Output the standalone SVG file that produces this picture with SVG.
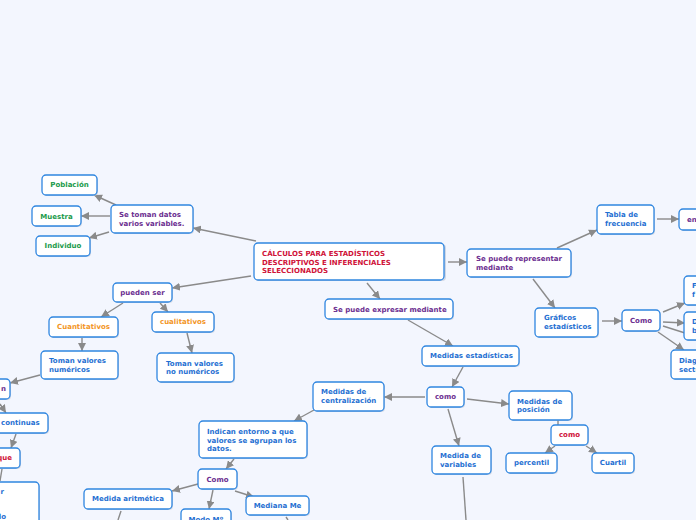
<svg xmlns="http://www.w3.org/2000/svg" width="696" height="520" viewBox="0 0 696 520">
<style>
.bg{fill:#f3f6fe}
.n rect.b{fill:#fff;stroke:#2f86e0;stroke-width:1.3}
.n rect.sh{fill:#b9c3d3;opacity:.6}
text{font-family:"DejaVu Sans","Verdana",sans-serif;font-weight:bold;font-size:7px;dominant-baseline:central}
.c{text-anchor:middle}
.e{text-anchor:end}
.bl{fill:#1f70d2}
.pu{fill:#6b2d8f}
.rd{fill:#cf1238}
.gr{fill:#1a9a4a}
.or{fill:#f3961f}
#conn line,#conn path{stroke:#8a8a8a;stroke-width:1.4;fill:none}
.a{marker-end:url(#ah)}
</style>
<defs>
<marker id="ah" viewBox="0 0 10 10" refX="10" refY="5" markerWidth="8" markerHeight="8" markerUnits="userSpaceOnUse" orient="auto">
<path d="M0,0 L10,5 L0,10 z" fill="#8a8a8a"/>
</marker>
</defs>
<rect class="bg" x="0" y="0" width="696" height="520"/>

<g id="conn">
<line class="a" x1="256" y1="241" x2="193" y2="228"/>
<line class="a" x1="116" y1="205" x2="94" y2="195"/>
<line class="a" x1="110" y1="216" x2="81" y2="216"/>
<line class="a" x1="109" y1="232" x2="89" y2="238"/>
<line class="a" x1="367" y1="283" x2="380" y2="299"/>
<line class="a" x1="448" y1="262" x2="467" y2="262"/>
<line class="a" x1="557" y1="248" x2="597" y2="230"/>
<line class="a" x1="657" y1="219" x2="679" y2="219"/>
<line class="a" x1="533" y1="279" x2="555" y2="308"/>
<line class="a" x1="602" y1="321" x2="622" y2="321"/>
<line class="a" x1="663" y1="312" x2="685" y2="303"/>
<line class="a" x1="663" y1="322" x2="685" y2="323"/>
<line x1="663" y1="326" x2="685" y2="333"/>
<line class="a" x1="658" y1="332" x2="684" y2="350"/>
<line class="a" x1="408" y1="320" x2="453" y2="346"/>
<line class="a" x1="463" y1="367" x2="452" y2="387"/>
<line class="a" x1="425" y1="397" x2="384" y2="397"/>
<line class="a" x1="448" y1="409" x2="459" y2="446"/>
<line class="a" x1="467" y1="399" x2="509" y2="404"/>
<line x1="558" y1="420" x2="558" y2="425"/>
<line class="a" x1="555" y1="446" x2="545" y2="453"/>
<line class="a" x1="586" y1="446" x2="597" y2="453"/>
<line x1="463" y1="477" x2="466" y2="520"/>
<line class="a" x1="251" y1="276" x2="172" y2="288"/>
<line class="a" x1="123" y1="303" x2="101" y2="317"/>
<line class="a" x1="160" y1="303" x2="168" y2="312"/>
<line class="a" x1="82" y1="338" x2="82" y2="351"/>
<line class="a" x1="187" y1="333" x2="192" y2="353"/>
<line class="a" x1="40" y1="375" x2="10" y2="383"/>
<line class="a" x1="0" y1="404" x2="6" y2="413"/>
<line class="a" x1="16" y1="434" x2="11" y2="448"/>
<line x1="2" y1="469" x2="0" y2="481"/>
<line class="a" x1="314" y1="410" x2="294" y2="421"/>
<line class="a" x1="234" y1="459" x2="226" y2="469"/>
<line class="a" x1="198" y1="484" x2="172" y2="491"/>
<line class="a" x1="235" y1="491" x2="254" y2="497"/>
<line class="a" x1="213" y1="490" x2="209" y2="509"/>
<line x1="121" y1="511" x2="118" y2="520"/>
<line x1="286" y1="517" x2="288" y2="520"/>
</g>

<g id="main" class="n"><rect class="sh" x="255" y="244" width="191" height="37" rx="4"/><rect class="b" x="254" y="243" width="190" height="37" rx="4"/>
<text class="rd" x="262" y="254">CÁLCULOS PARA ESTADÍSTICOS</text><text class="rd" x="262" y="262.5">DESCRIPTIVOS E INFERENCIALES</text><text class="rd" x="262" y="271">SELECCIONADOS</text></g>

<g id="setoman" class="n"><rect class="sh" x="112" y="206" width="82" height="28" rx="4"/><rect class="b" x="111" y="205" width="82" height="28" rx="4"/>
<text class="pu" x="119" y="215">Se toman datos</text><text class="pu" x="119" y="224">varios variables.</text></g>

<g id="poblacion" class="n"><rect class="sh" x="43" y="176" width="55" height="20" rx="4"/><rect class="b" x="42" y="175" width="55" height="20" rx="4"/>
<text class="gr c" x="69.5" y="185">Población</text></g>

<g id="muestra" class="n"><rect class="sh" x="33" y="207" width="49" height="20" rx="4"/><rect class="b" x="32" y="206" width="49" height="20" rx="4"/>
<text class="gr c" x="56.5" y="216.5">Muestra</text></g>

<g id="individuo" class="n"><rect class="sh" x="37" y="237" width="54" height="20" rx="4"/><rect class="b" x="36" y="236" width="54" height="20" rx="4"/>
<text class="gr c" x="63" y="246">Individuo</text></g>

<g id="expresar" class="n"><rect class="sh" x="326" y="300" width="128" height="20" rx="4"/><rect class="b" x="325" y="299" width="128" height="20" rx="4"/>
<text class="pu" x="333" y="309.5">Se puede expresar mediante</text></g>

<g id="representar" class="n"><rect class="sh" x="468" y="250" width="104" height="28" rx="4"/><rect class="b" x="467" y="249" width="104" height="28" rx="4"/>
<text class="pu" x="476" y="259">Se puede representar</text><text class="pu" x="476" y="267.5">mediante</text></g>

<g id="tabla" class="n"><rect class="sh" x="598" y="206" width="57" height="29" rx="4"/><rect class="b" x="597" y="205" width="57" height="29" rx="4"/>
<text class="bl" x="605" y="215">Tabla de</text><text class="bl" x="605" y="224">frecuencia</text></g>

<g id="en" class="n"><rect class="sh" x="680" y="210" width="30" height="21" rx="4"/><rect class="b" x="679" y="209" width="30" height="21" rx="4"/>
<text class="pu" x="687" y="219.5">en</text></g>

<g id="graficos" class="n"><rect class="sh" x="536" y="309" width="63" height="29" rx="4"/><rect class="b" x="535" y="308" width="63" height="29" rx="4"/>
<text class="bl" x="544" y="318">Gráficos</text><text class="bl" x="544" y="327">estadísticos</text></g>

<g id="como1" class="n"><rect class="sh" x="623" y="311" width="38" height="21" rx="4"/><rect class="b" x="622" y="310" width="38" height="21" rx="4"/>
<text class="pu c" x="641" y="320.5">Como</text></g>

<g id="g1" class="n"><rect class="sh" x="685" y="277" width="20" height="29" rx="4"/><rect class="b" x="684" y="276" width="20" height="29" rx="4"/>
<text class="bl" x="692" y="286">F</text><text class="bl" x="692" y="295">f</text></g>

<g id="g2" class="n"><rect class="sh" x="685" y="313" width="20" height="28" rx="4"/><rect class="b" x="684" y="312" width="20" height="28" rx="4"/>
<text class="bl" x="692" y="322">D</text><text class="bl" x="692" y="331">b</text></g>

<g id="g3" class="n"><rect class="sh" x="672" y="351" width="40" height="29" rx="4"/><rect class="b" x="671" y="350" width="40" height="29" rx="4"/>
<text class="bl" x="679" y="361">Diagrama</text><text class="bl" x="679" y="369.5">sectores</text></g>

<g id="medest" class="n"><rect class="sh" x="423" y="347" width="97" height="20" rx="4"/><rect class="b" x="422" y="346" width="97" height="20" rx="4"/>
<text class="bl" x="430" y="356">Medidas estadísticas</text></g>

<g id="como2" class="n"><rect class="sh" x="428" y="388" width="37" height="20" rx="4"/><rect class="b" x="427" y="387" width="37" height="20" rx="4"/>
<text class="pu c" x="445.5" y="397">como</text></g>

<g id="central" class="n"><rect class="sh" x="314" y="383" width="71" height="29" rx="4"/><rect class="b" x="313" y="382" width="71" height="29" rx="4"/>
<text class="bl" x="321" y="392">Medidas de</text><text class="bl" x="321" y="401">centralización</text></g>

<g id="variables" class="n"><rect class="sh" x="433" y="447" width="59" height="28" rx="4"/><rect class="b" x="432" y="446" width="59" height="28" rx="4"/>
<text class="bl" x="440" y="456">Medida de</text><text class="bl" x="440" y="465">variables</text></g>

<g id="posicion" class="n"><rect class="sh" x="510" y="392" width="63" height="29" rx="4"/><rect class="b" x="509" y="391" width="63" height="29" rx="4"/>
<text class="bl" x="517" y="401.5">Medidas de</text><text class="bl" x="517" y="410">posición</text></g>

<g id="como3" class="n"><rect class="sh" x="552" y="426" width="37" height="20" rx="4"/><rect class="b" x="551" y="425" width="37" height="20" rx="4"/>
<text class="rd c" x="569.5" y="435">como</text></g>

<g id="percentil" class="n"><rect class="sh" x="507" y="454" width="51" height="20" rx="4"/><rect class="b" x="506" y="453" width="51" height="20" rx="4"/>
<text class="bl c" x="531.5" y="463">percentil</text></g>

<g id="cuartil" class="n"><rect class="sh" x="593" y="454" width="42" height="20" rx="4"/><rect class="b" x="592" y="453" width="42" height="20" rx="4"/>
<text class="bl c" x="613" y="463">Cuartil</text></g>

<g id="puedenser" class="n"><rect class="sh" x="114" y="284" width="59" height="19" rx="4"/><rect class="b" x="113" y="283" width="59" height="19" rx="4"/>
<text class="pu c" x="142.5" y="292.5">pueden ser</text></g>

<g id="cuanti" class="n"><rect class="sh" x="50" y="318" width="69" height="20" rx="4"/><rect class="b" x="49" y="317" width="69" height="20" rx="4"/>
<text class="or c" x="83.5" y="327">Cuantitativos</text></g>

<g id="cuali" class="n"><rect class="sh" x="153" y="313" width="62" height="20" rx="4"/><rect class="b" x="152" y="312" width="62" height="20" rx="4"/>
<text class="or c" x="183" y="322">cualitativos</text></g>

<g id="numericos" class="n"><rect class="sh" x="42" y="352" width="77" height="28" rx="4"/><rect class="b" x="41" y="351" width="77" height="28" rx="4"/>
<text class="bl" x="49" y="361">Toman valores</text><text class="bl" x="49" y="370">numéricos</text></g>

<g id="nonumericos" class="n"><rect class="sh" x="158" y="354" width="77" height="29" rx="4"/><rect class="b" x="157" y="353" width="77" height="29" rx="4"/>
<text class="bl" x="166" y="363.5">Toman valores</text><text class="bl" x="166" y="372">no numéricos</text></g>

<g id="son" class="n"><rect class="sh" x="-29" y="380" width="40" height="20" rx="4"/><rect class="b" x="-30" y="379" width="40" height="20" rx="4"/>
<text class="pu e" x="6" y="389">n</text></g>

<g id="continuas" class="n"><rect class="sh" x="-19" y="414" width="68" height="20" rx="4"/><rect class="b" x="-20" y="413" width="68" height="20" rx="4"/>
<text class="bl" x="1" y="423">continuas</text></g>

<g id="que" class="n"><rect class="sh" x="-19" y="449" width="40" height="20" rx="4"/><rect class="b" x="-20" y="448" width="40" height="20" rx="4"/>
<text class="rd e" x="12" y="458">que</text></g>

<g id="leftbig" class="n"><rect class="sh" x="-39" y="483" width="79" height="50" rx="4"/><rect class="b" x="-40" y="482" width="79" height="50" rx="4"/>
<text class="bl e" x="4" y="492">r</text><text class="bl e" x="6" y="517">lo</text></g>

<g id="indican" class="n"><rect class="sh" x="200" y="422" width="108" height="37" rx="4"/><rect class="b" x="199" y="421" width="108" height="37" rx="4"/>
<text class="bl" x="207" y="432">Indican entorno a que</text><text class="bl" x="207" y="440.5">valores se agrupan los</text><text class="bl" x="207" y="449">datos.</text></g>

<g id="como4" class="n"><rect class="sh" x="199" y="470" width="39" height="20" rx="4"/><rect class="b" x="198" y="469" width="39" height="20" rx="4"/>
<text class="pu c" x="217.5" y="479.5">Como</text></g>

<g id="aritmetica" class="n"><rect class="sh" x="85" y="490" width="88" height="20" rx="4"/><rect class="b" x="84" y="489" width="88" height="20" rx="4"/>
<text class="bl c" x="128" y="499">Medida aritmética</text></g>

<g id="mediana" class="n"><rect class="sh" x="247" y="497" width="63" height="19" rx="4"/><rect class="b" x="246" y="496" width="63" height="19" rx="4"/>
<text class="bl c" x="277.5" y="505.5">Mediana Me</text></g>

<g id="modo" class="n"><rect class="sh" x="182" y="510" width="50" height="20" rx="4"/><rect class="b" x="181" y="509" width="50" height="20" rx="4"/>
<text class="bl c" x="206" y="519.5">Modo Mº</text></g>
</svg>
